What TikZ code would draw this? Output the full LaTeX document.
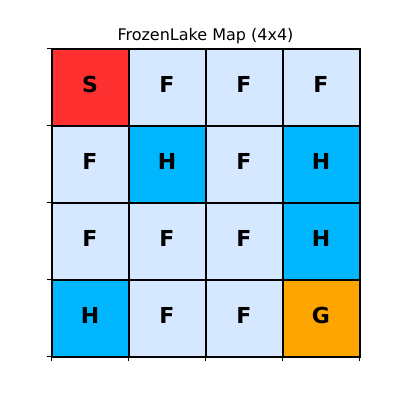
\documentclass[tikz,border=0pt]{standalone}
\usepackage{fontspec}
\setmainfont{DejaVu Sans}
\definecolor{cS}{RGB}{255,48,48}
\definecolor{cF}{RGB}{214,232,255}
\definecolor{cH}{RGB}{0,183,255}
\definecolor{cG}{RGB}{255,165,0}
\tikzset{
  cell/.style={draw=black, line width=2pt, minimum width=77pt, minimum height=77pt, inner sep=0pt, outer sep=0pt, anchor=north west,
    font=\fontsize{22}{22}\selectfont\bfseries, text height=16pt, text depth=6pt},
  tick/.style={line width=0.8pt},
  ttl/.style={font=\fontsize{16}{16}\selectfont, anchor=base}
}
\begin{document}
\begin{tikzpicture}[x=1pt,y=-1pt]
\useasboundingbox[fill=white] (0,0) rectangle (400,400);
\node[ttl] (title) at (205.5,40) {FrozenLake Map (4x4)};
\foreach \r/\row in {0/{S,F,F,F},1/{F,H,F,H},2/{F,F,F,H},3/{H,F,F,G}}{
  \foreach \t [count=\c from 0] in \row {
    \node[cell, fill=c\t] (cell-\r-\c) at ({51.5+77*\c},{48.5+77*\r}) {\t};
  }
}
\foreach \i in {0,...,4}{
  \coordinate (ly\i) at (51.5,{48.5+77*\i});
  \coordinate (lt\i) at (47,{48.5+77*\i});
  \draw[tick] (ly\i) -- (lt\i);
  \coordinate (bx\i) at ({51.5+77*\i},356.5);
  \coordinate (bt\i) at ({51.5+77*\i},361);
  \draw[tick] (bx\i) -- (bt\i);
}
\end{tikzpicture}
\end{document}
